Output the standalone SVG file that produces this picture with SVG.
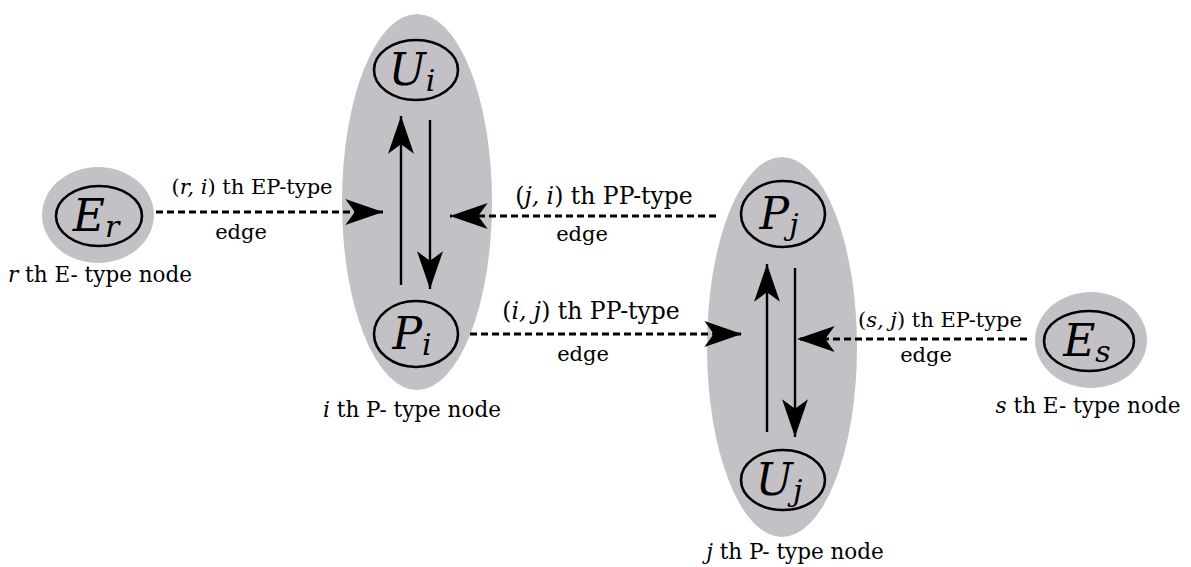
<svg xmlns="http://www.w3.org/2000/svg" width="1191" height="567" viewBox="0 0 1191 567">
<style>
.bg{fill:#c3c1c6}
.in{fill:none;stroke:#000;stroke-width:2.6}
.t{font-family:"DejaVu Serif","Liberation Serif",serif;font-size:21px;fill:#000;text-anchor:middle}
.n{font-size:21.5px}
.pp{font-size:23.5px}
.ep{font-size:21px}
.m{font-style:italic}
.big{font-family:"DejaVu Serif","Liberation Serif",serif;font-size:44px;font-style:italic;fill:#000;text-anchor:middle}
.sub{font-size:30px}
.d{fill:none;stroke:#000;stroke-width:3;stroke-dasharray:7 4}
.s{fill:none;stroke:#000;stroke-width:2.4}
</style>
<defs>
<marker id="ah" markerUnits="userSpaceOnUse" markerWidth="40" markerHeight="30" viewBox="-32 -12 34 24" refX="0" refY="0" orient="auto">
<path d="M0,0 L-32,-11 L-24,0 L-32,11 Z" fill="#000"/>
</marker>
</defs>
<g id="node-er">
<ellipse class="bg" cx="98" cy="215" rx="56" ry="48"/>
<ellipse class="in" cx="99" cy="216" rx="43" ry="30"/>
<text class="big" x="96" y="231">E<tspan class="sub" dy="6">r</tspan></text>
<text class="t n" x="100" y="282"><tspan class="m">r</tspan> th E- type node</text>
</g>
<g id="node-i">
<ellipse class="bg" cx="417" cy="202" rx="75" ry="188"/>
<ellipse class="in" cx="416" cy="70" rx="42" ry="30"/>
<text class="big" x="412" y="85">U<tspan class="sub" dy="6">i</tspan></text>
<ellipse class="in" cx="416" cy="334" rx="42" ry="33"/>
<text class="big" x="412" y="349">P<tspan class="sub" dy="6">i</tspan></text>
<text class="t n" x="412" y="417"><tspan class="m">i</tspan> th P- type node</text>
</g>
<g id="node-j">
<ellipse class="bg" cx="782" cy="347" rx="75" ry="190"/>
<ellipse class="in" cx="783" cy="214" rx="42" ry="33"/>
<text class="big" x="779" y="229">P<tspan class="sub" dy="6">j</tspan></text>
<ellipse class="in" cx="783" cy="480" rx="42" ry="30"/>
<text class="big" x="779" y="495">U<tspan class="sub" dy="6">j</tspan></text>
<text class="t n" x="795" y="559"><tspan class="m">j</tspan> th P- type node</text>
</g>
<g id="node-es">
<ellipse class="bg" cx="1091" cy="340" rx="56" ry="48"/>
<ellipse class="in" cx="1089" cy="341" rx="45" ry="30"/>
<text class="big" x="1087" y="356">E<tspan class="sub" dy="6">s</tspan></text>
<text class="t n" x="1088" y="413"><tspan class="m">s</tspan> th E- type node</text>
</g>
<g id="connectors">
<line class="d" x1="156" y1="212" x2="383" y2="212" marker-end="url(#ah)"/>
<line class="d" x1="716" y1="216" x2="450" y2="216" marker-end="url(#ah)"/>
<line class="d" x1="470" y1="334" x2="742" y2="334" marker-end="url(#ah)"/>
<line class="d" x1="1027" y1="339" x2="797" y2="339" marker-end="url(#ah)"/>
<line class="s" x1="401" y1="285" x2="401" y2="116" marker-end="url(#ah)"/>
<line class="s" x1="430" y1="120" x2="430" y2="289" marker-end="url(#ah)"/>
<line class="s" x1="767" y1="432" x2="767" y2="264" marker-end="url(#ah)"/>
<line class="s" x1="795" y1="268" x2="795" y2="437" marker-end="url(#ah)"/>
</g>
<g id="labels">
<text class="t ep" x="252" y="194">(<tspan class="m">r, i</tspan>) th EP-type</text>
<text class="t" x="241" y="239">edge</text>
<text class="t pp" x="604" y="204">(<tspan class="m">j, i</tspan>) th PP-type</text>
<text class="t" x="582" y="241">edge</text>
<text class="t pp" x="591" y="319">(<tspan class="m">i, j</tspan>) th PP-type</text>
<text class="t" x="583" y="361">edge</text>
<text class="t ep" x="940" y="327">(<tspan class="m">s, j</tspan>) th EP-type</text>
<text class="t" x="926" y="362">edge</text>
</g>
</svg>
